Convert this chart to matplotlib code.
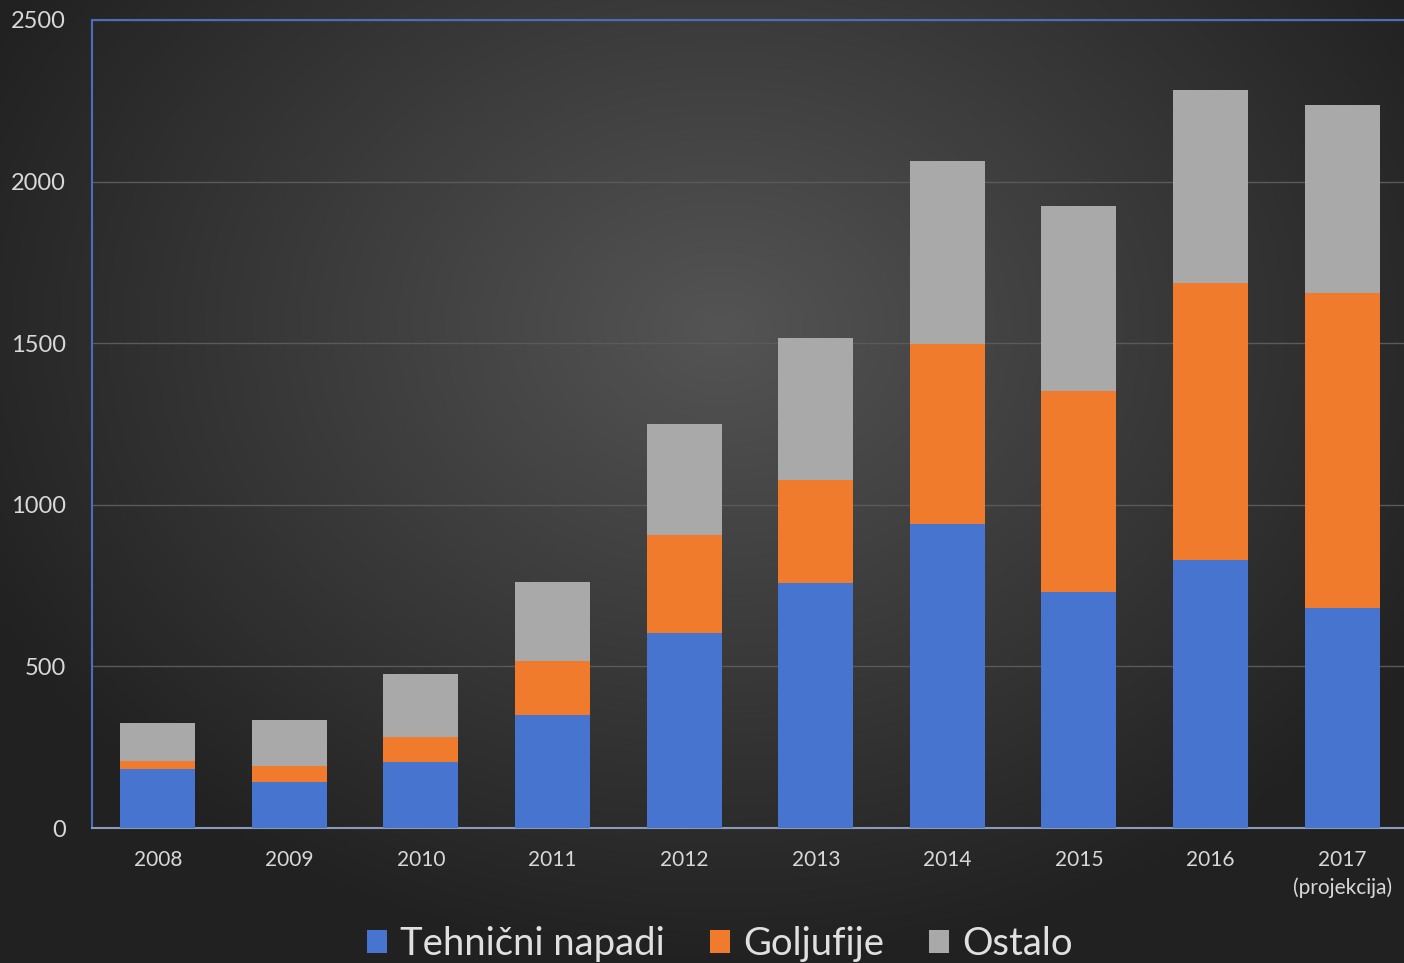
import numpy as np
import matplotlib
matplotlib.use("Agg")
import matplotlib.pyplot as plt
from matplotlib.patches import Patch

years = ["2008", "2009", "2010", "2011", "2012", "2013", "2014", "2015", "2016", "2017\n(projekcija)"]
tehnicni = [183, 142, 204, 350, 603, 758, 941, 730, 829, 681]
goljufije = [24, 50, 78, 167, 303, 319, 556, 622, 857, 974]
ostalo = [118, 142, 194, 244, 344, 439, 567, 572, 597, 582]
series_names = ["Tehnični napadi", "Goljufije", "Ostalo"]
colors = ["#4674cf", "#f07b2c", "#a9a9a9"]

plt.rcParams['font.family'] = ['Lato', 'DejaVu Sans']
W, H = 1404, 963
fig = plt.figure(figsize=(W / 100, H / 100), dpi=100)

# radial gradient background
bg = fig.add_axes([0, 0, 1, 1], zorder=-10)
yy, xx = np.mgrid[0:H, 0:W]
d = np.sqrt(((xx - 720) / 900.0) ** 2 + ((yy - 330) / 700.0) ** 2)
val = np.clip(0.33 - 0.22 * d, 0.13, 0.33)
img = np.dstack([val, val, val])
bg.imshow(img, extent=[0, 1, 0, 1], aspect='auto', origin='upper')
bg.axis('off')

ax = fig.add_axes([92 / W, 1 - 828 / H, 1 - 92 / W, (828 - 20) / H])
ax.patch.set_alpha(0)
x = np.arange(len(years))
bw = 0.57
ax.bar(x, tehnicni, bw, color=colors[0], zorder=3)
bottom2 = np.array(tehnicni)
ax.bar(x, goljufije, bw, bottom=bottom2, color=colors[1], zorder=3)
bottom3 = bottom2 + np.array(goljufije)
ax.bar(x, ostalo, bw, bottom=bottom3, color=colors[2], zorder=3)

ax.set_xlim(-0.5, 9.47)
ax.set_ylim(0, 2500)
ax.set_yticks([0, 500, 1000, 1500, 2000, 2500])
ax.yaxis.grid(True, color='#5a5a5a', linewidth=1, zorder=0)
ax.set_axisbelow(True)
ax.set_xticks(x)
ax.set_xticklabels(years, fontsize=15, color='#d8d8d8', linespacing=1.45)
ax.tick_params(axis='y', labelsize=17, labelcolor='#d8d8d8', length=0, pad=19)
ax.tick_params(axis='x', length=0, pad=16)
ax.spines['left'].set_color('#4a6fb8')
ax.spines['top'].set_color('#4a6fb8')
ax.spines['bottom'].set_color('#8a9ab8')
ax.spines['right'].set_visible(False)
for s in ['left', 'top', 'bottom']:
    ax.spines[s].set_linewidth(1.5)

handles = [Patch(facecolor=c, edgecolor='none') for c in colors]
leg = fig.legend(handles, series_names, loc='center', bbox_to_anchor=(720 / W, 1 - 944 / H),
                 ncol=3, frameon=False, fontsize=27.5, handlelength=0.52, handleheight=0.52,
                 handletextpad=0.34, columnspacing=1.18)
for t in leg.get_texts():
    t.set_color('#e0e0e0')

fig.savefig("out.png", dpi=100)
